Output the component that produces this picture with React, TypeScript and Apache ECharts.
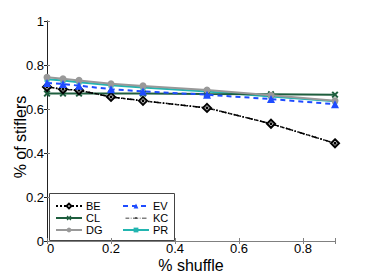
import React, { useEffect, useRef } from "react";
import * as echarts from "echarts";

const shuffle = [0, 0.05, 0.1, 0.2, 0.3, 0.5, 0.7, 0.9];
const BE = [0.7, 0.69, 0.685, 0.655, 0.637, 0.605, 0.533, 0.444];
const CL = [0.67, 0.67, 0.67, 0.67, 0.67, 0.668, 0.667, 0.665];
const DG = [0.744, 0.737, 0.73, 0.715, 0.705, 0.686, 0.662, 0.637];
const EV = [0.718, 0.714, 0.706, 0.69, 0.68, 0.665, 0.645, 0.622];
const KC = [0.7, 0.69, 0.685, 0.655, 0.637, 0.605, 0.533, 0.444];
const PR = [0.735, 0.73, 0.722, 0.708, 0.698, 0.68, 0.657, 0.635];
const xTicks = [0, 0.2, 0.4, 0.6, 0.8];
const yTicks = [0, 0.2, 0.4, 0.6, 0.8, 1];

const pts = (ys: number[]) => shuffle.map((x, i) => [x, ys[i]]);
const crossPath =
  "path://M2,0 L5,3 L8,0 L10,2 L7,5 L10,8 L8,10 L5,7 L2,10 L0,8 L3,5 L0,2 Z";
const kcIcon =
  "path://M0,0h0.01v0.01h-0.01z M27.99,7.99h0.01v0.01h-0.01z M0,3.5h5v1h-5z M7,3.5h1v1h-1z M10,3.5h3v1h-3z M13,3h2v2h-2z M15,3.5h2v1h-2z M19,3.5h1v1h-1z M22,3.5h6v1h-6z";

export default function App() {
  const ref = useRef<HTMLDivElement>(null);
  useEffect(() => {
    const chart = echarts.init(ref.current!, null, { renderer: "svg" });
    const font = "Liberation Sans, Arial, sans-serif";
    const axisGray = "#808080";
    const legendCommon = {
      orient: "vertical",
      top: 200,
      itemWidth: 26,
      itemHeight: 6,
      itemGap: 0,
      padding: 0,
      textStyle: { fontSize: 11, lineHeight: 12, color: "#000", fontFamily: font, padding: [0, 0, 0, -1] },
    };
    chart.setOption({
      animation: false,
      textStyle: { fontFamily: font },
      grid: { left: 47, right: 35, top: 21, bottom: 35, containLabel: false },
      xAxis: [
        {
          type: "value",
          min: 0,
          max: 0.9,
          interval: 0.2,
          name: "% shuffle",
          nameLocation: "middle",
          nameGap: 16,
          nameMoveOverlap: false,
          nameTextStyle: { fontSize: 16, lineHeight: 16, color: "#000", fontFamily: font, verticalAlign: "top" },
          axisLine: { show: true, lineStyle: { color: axisGray, width: 1 } },
          axisTick: { show: true, inside: true, length: 3, lineStyle: { color: axisGray } },
          axisLabel: {
            fontSize: 13,
            lineHeight: 11,
            color: "#000",
            margin: 2,
            fontFamily: font,
            alignMinLabel: "left",
            formatter: (v: number) => (xTicks.some((t) => Math.abs(t - v) < 1e-9) ? String(+v.toFixed(1)) : ""),
          },
          splitLine: { show: false },
        },
        {
          type: "value",
          position: "top",
          min: 0,
          max: 0.9,
          interval: 0.2,
          axisLine: { show: true, lineStyle: { color: axisGray, width: 1 } },
          axisTick: { show: true, inside: true, length: 3, lineStyle: { color: axisGray } },
          axisLabel: { show: false },
          splitLine: { show: false },
        },
      ],
      yAxis: [
        {
          type: "value",
          min: 0,
          max: 1,
          interval: 0.2,
          name: "% of stiflers",
          nameLocation: "middle",
          nameGap: 19,
          nameMoveOverlap: false,
          nameTextStyle: { fontSize: 16, lineHeight: 16, color: "#000", fontFamily: font, padding: [0, 12, 0, 0] },
          axisLine: { show: true, lineStyle: { color: axisGray, width: 1 } },
          axisTick: { show: true, inside: true, length: 3, lineStyle: { color: axisGray } },
          axisLabel: {
            fontSize: 13,
            color: "#000",
            margin: 3,
            fontFamily: font,
            formatter: (v: number) => (yTicks.some((t) => Math.abs(t - v) < 1e-9) ? String(+v.toFixed(1)) : ""),
          },
          splitLine: { show: false },
        },
        {
          type: "value",
          position: "right",
          min: 0,
          max: 1,
          interval: 0.2,
          axisLine: { show: true, lineStyle: { color: "#222", width: 1 } },
          axisTick: { show: true, inside: true, length: 3, lineStyle: { color: "#222" } },
          axisLabel: { show: false },
          splitLine: { show: false },
        },
      ],
      legend: [
        { ...legendCommon, left: 55, data: ["BE", "CL", "DG"] },
        {
          ...legendCommon,
          left: 122,
          data: ["EV", { name: "KC", icon: kcIcon, itemStyle: { color: "#000" } }, "PR"],
        },
      ],
      graphic: [
        {
          type: "rect",
          left: 49,
          top: 193,
          shape: { width: 125, height: 47 },
          style: { fill: "#fff", stroke: "#444", lineWidth: 1 },
          z: 0,
        },
      ],
      series: [
        {
          name: "BE",
          type: "line",
          data: pts(BE),
          symbol: "diamond",
          symbolSize: 8,
          lineStyle: { color: "#000", width: 1.5, type: "dotted" },
          itemStyle: { color: "#fff", borderColor: "#000", borderWidth: 2 },
          z: 3,
        },
        {
          name: "CL",
          type: "line",
          data: pts(CL),
          symbol: crossPath,
          symbolSize: 7,
          lineStyle: { color: "#1e5e3e", width: 2 },
          itemStyle: { color: "#1e5e3e" },
          z: 2,
        },
        {
          name: "DG",
          type: "line",
          data: pts(DG),
          symbol: "circle",
          symbolSize: 7,
          lineStyle: { color: "#999", width: 2 },
          itemStyle: { color: "#999" },
          z: 2,
        },
        {
          name: "EV",
          type: "line",
          data: pts(EV),
          symbol: "triangle",
          symbolSize: 8,
          lineStyle: { color: "#1f4cff", width: 2, type: [5, 4] },
          itemStyle: { color: "#1f4cff" },
          z: 4,
        },
        {
          name: "KC",
          type: "line",
          data: pts(KC),
          symbol: "circle",
          symbolSize: 3,
          lineStyle: { color: "#000", width: 1.5, type: [6, 3, 1.5, 3] },
          itemStyle: { color: "#000" },
          z: 3,
        },
        {
          name: "PR",
          type: "line",
          data: pts(PR),
          symbol: "rect",
          symbolSize: 5,
          lineStyle: { color: "#22b5b0", width: 2 },
          itemStyle: { color: "#22b5b0" },
          z: 1,
        },
      ],
    });
    return () => chart.dispose();
  }, []);
  return <div ref={ref} style={{ width: 370, height: 278, position: "absolute", left: 0, top: 0, background: "#fff" }} />;
}
